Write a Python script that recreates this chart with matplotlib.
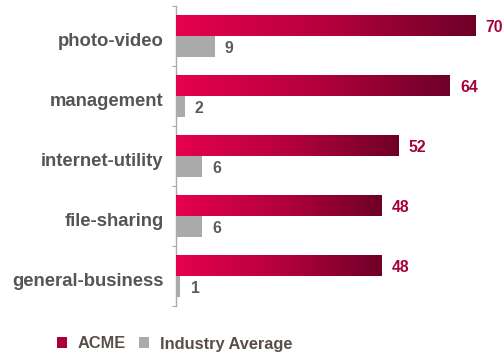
import numpy as np
import matplotlib
matplotlib.use("Agg")
import matplotlib.pyplot as plt
from matplotlib.colors import LinearSegmentedColormap
from matplotlib.patches import Patch

categories = ["photo-video", "management", "internet-utility", "file-sharing", "general-business"]
acme = [70, 64, 52, 48, 48]
industry = [9, 2, 6, 6, 1]
series_names = ["ACME", "Industry Average"]

plt.rcParams["font.family"] = ["Liberation Sans", "DejaVu Sans"]
plt.rcParams["font.weight"] = "bold"

W, H, DPI = 504, 356, 100
fig = plt.figure(figsize=(W / DPI, H / DPI), dpi=DPI)
ax = fig.add_axes([176 / W, 50 / H, 321 / W, 300 / H])

grad_left = "#e6004f"
grad_right = "#6e0027"
gray = "#aaaaaa"
acme_mid = "#a8003b"
cmap = LinearSegmentedColormap.from_list("acme", [grad_left, "#b5003e", grad_right])

n = len(categories)
centers = np.arange(n) + 0.5
h = 0.35
acme_y = centers - 0.175
ind_y = centers + 0.175

bars = ax.barh(acme_y, acme, height=h, color=acme_mid, zorder=2)
ax.barh(ind_y, industry, height=h, color=gray, zorder=2)

# horizontal gradient painted over each ACME bar
grad = np.linspace(0, 1, 256).reshape(1, -1)
for b, v in zip(bars, acme):
    y0 = b.get_y()
    ax.imshow(grad, cmap=cmap, aspect="auto", extent=(0, v, y0 + h, y0),
              zorder=3, interpolation="bicubic")

for y, v in zip(acme_y, acme):
    ax.text(v + 2.4, y + 0.03, str(v), va="center", ha="left", fontsize=11.3,
            fontweight="bold", color="#a8003a")
for y, v in zip(ind_y, industry):
    ax.text(v + 2.4, y + 0.03, str(v), va="center", ha="left", fontsize=11.3,
            fontweight="bold", color="#5a5a5a")

ax.set_xlim(0, 75)
ax.set_ylim(n, 0)

for s in ["top", "right", "bottom"]:
    ax.spines[s].set_visible(False)
ax.spines["left"].set_color("#aaaaaa")
ax.spines["left"].set_linewidth(1)
ax.set_xticks([])
ax.set_yticks(np.arange(n + 1))
ax.set_yticklabels([])
ax.tick_params(axis="y", which="major", length=3, color="#aaaaaa", direction="out")
ax.set_yticks(centers + 0.05, minor=True)
ax.set_yticklabels(categories, minor=True, fontsize=13.3, fontweight="bold", color="#555557")
ax.tick_params(axis="y", which="minor", length=0, pad=9)

handles = [Patch(facecolor=acme_mid, edgecolor="none"), Patch(facecolor=gray, edgecolor="none")]
fig.legend(handles, series_names, loc="center left", bbox_to_anchor=(42 / W, 1 - 344 / H),
           ncol=2, frameon=False, handlelength=0.61, handleheight=0.61,
           handletextpad=0.67, columnspacing=0.8,
           prop={"size": 11.8, "weight": "bold"}, labelcolor="#5a4e48")

fig.savefig("out.png", dpi=DPI)
